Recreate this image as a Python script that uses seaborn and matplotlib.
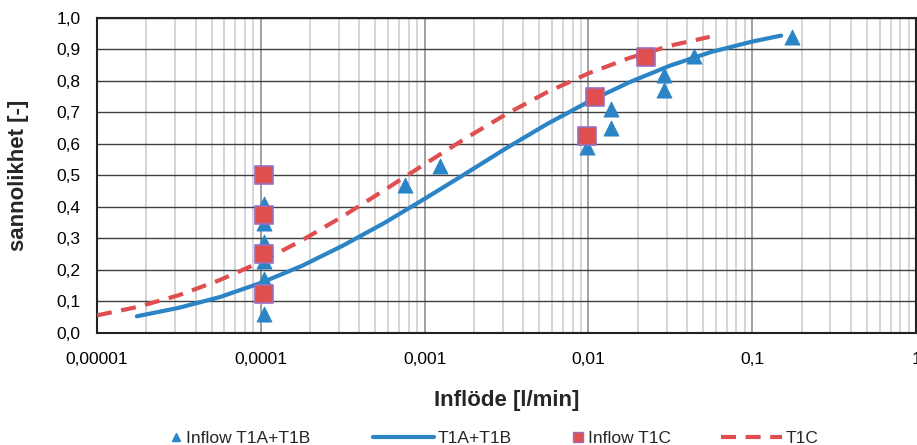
import matplotlib
matplotlib.use('Agg')
import matplotlib.pyplot as plt
from matplotlib.lines import Line2D
from matplotlib.legend_handler import HandlerLine2D
import pandas as pd
import seaborn as sns

# measured inflow, T1A+T1B
inflow_ab_x = [0.000105, 0.000105, 0.000105, 0.000105, 0.000105, 0.000105,
               0.00076, 0.00124, 0.0098, 0.0137, 0.0137, 0.029, 0.029, 0.044, 0.176]
inflow_ab_y = [0.06, 0.17, 0.23, 0.29, 0.35, 0.41,
               0.47, 0.53, 0.59, 0.65, 0.71, 0.77, 0.82, 0.88, 0.94]

# measured inflow, T1C
inflow_c_x = [0.000105, 0.000105, 0.000105, 0.000105, 0.0098, 0.011, 0.0225]
inflow_c_y = [0.125, 0.25, 0.375, 0.5, 0.625, 0.75, 0.875]

# fitted curve T1A+T1B
fit_ab_x = [1.75e-5, 3.16e-5, 5.62e-5, 1e-4, 1.78e-4, 3.16e-4, 5.62e-4, 1e-3, 1.78e-3,
            3.16e-3, 5.62e-3, 1e-2, 1.78e-2, 3.16e-2, 5.62e-2, 0.1, 0.15]
fit_ab_y = [0.053, 0.080, 0.114, 0.159, 0.213, 0.277, 0.348, 0.426, 0.506,
            0.587, 0.664, 0.734, 0.796, 0.849, 0.892, 0.925, 0.944]

# fitted curve T1C
fit_c_x = [1e-5, 1.78e-5, 3.16e-5, 5.62e-5, 1e-4, 1.78e-4, 3.16e-4, 5.62e-4, 1e-3,
           1.78e-3, 3.16e-3, 5.62e-3, 1e-2, 1.78e-2, 3.16e-2, 0.055]
fit_c_y = [0.056, 0.083, 0.120, 0.168, 0.226, 0.294, 0.370, 0.452, 0.536,
           0.618, 0.695, 0.765, 0.824, 0.873, 0.912, 0.940]

x_ticks = [0.00001, 0.0001, 0.001, 0.01, 0.1, 1]
x_labels = ['0,00001', '0,0001', '0,001', '0,01', '0,1', '1']
y_ticks = [i / 10 for i in range(11)]
y_labels = [('%.1f' % v).replace('.', ',') for v in y_ticks]

blue = '#2a84c6'
red = '#e04f4f'
dash = (0, (3.6, 2.3))


class MarkerRight(HandlerLine2D):
    # put the marker next to the text, like the spreadsheet legend
    def get_xdata(self, legend, xdescent, ydescent, width, height, fontsize):
        xdata = [-xdescent + width - 9, -xdescent + width]
        return xdata, [-xdescent + width - 4.5]


sns.set_style('white')
plt.rcParams['font.family'] = ['Liberation Sans', 'DejaVu Sans']

fig = plt.figure(figsize=(9.17, 4.45), dpi=100)
ax = fig.add_axes([0.1058, 0.2517, 0.8932, 0.708])

ab_line = pd.DataFrame({'x': fit_ab_x, 'y': fit_ab_y})
c_line = pd.DataFrame({'x': fit_c_x, 'y': fit_c_y})
ab_pts = pd.DataFrame({'x': inflow_ab_x, 'y': inflow_ab_y})
c_pts = pd.DataFrame({'x': inflow_c_x, 'y': inflow_c_y})

sns.lineplot(data=ab_line, x='x', y='y', ax=ax, color=blue, lw=3, zorder=3)
sns.lineplot(data=c_line, x='x', y='y', ax=ax, color=red, lw=3, zorder=3,
             dashes=False, linestyle=dash)
sns.scatterplot(data=ab_pts, x='x', y='y', ax=ax, marker='^', s=120, color=blue,
                edgecolor=blue, linewidth=0.5, zorder=4)
sns.scatterplot(data=c_pts, x='x', y='y', ax=ax, marker='s', s=160, color=red,
                edgecolor='#9a6fc0', linewidth=1.2, zorder=5)

ax.set_xscale('log')
ax.set_xlim(0.00001, 1)
ax.set_ylim(0, 1)
ax.set_xticks(x_ticks)
ax.set_xticklabels(x_labels)
ax.set_yticks(y_ticks)
ax.set_yticklabels(y_labels)
ax.tick_params(axis='both', length=0, labelsize=12.5, colors='black')
ax.tick_params(axis='x', pad=14)
ax.tick_params(axis='y', pad=12)
ax.tick_params(which='minor', length=0)

ax.grid(True, which='minor', axis='x', color='#d4d4d4', lw=1.4)
ax.grid(True, which='major', axis='x', color='#a0a0a0', lw=1.4)
ax.grid(True, which='major', axis='y', color='#404040', lw=1.0)
ax.set_axisbelow(True)
for sp in ax.spines.values():
    sp.set_color('#222222')
    sp.set_linewidth(1.5)

ax.set_xlabel('Inflöde [l/min]', fontsize=16, fontweight='bold')
ax.set_ylabel('sannolikhet [-]', fontsize=16, fontweight='bold')
ax.xaxis.set_label_coords(0.5, -0.18)
ax.yaxis.set_label_coords(-0.083, 0.5)

tri = Line2D([], [], color=blue, marker='^', linestyle='none', markersize=6)
sq = Line2D([], [], color=red, marker='s', markeredgecolor='#9a6fc0', linestyle='none', markersize=7)
handles = [tri, Line2D([], [], color=blue, lw=3), sq, Line2D([], [], color=red, lw=3, linestyle=dash)]
labels = ['Inflow T1A+T1B', 'T1A+T1B', 'Inflow T1C', 'T1C']
# spreadsheet legend spacing is uneven, so one small legend per entry
starts = [121, 373, 523, 721]
for h, lab, x0 in zip(handles, labels, starts):
    fig.legend([h], [lab], loc='center left', bbox_to_anchor=(x0 / 917, 1 - 438 / 445),
               frameon=False, fontsize=12.5, handlelength=3.5, handletextpad=0.25,
               borderpad=0, borderaxespad=0,
               handler_map={tri: MarkerRight(), sq: MarkerRight()})

fig.savefig('out.png', dpi=100)
